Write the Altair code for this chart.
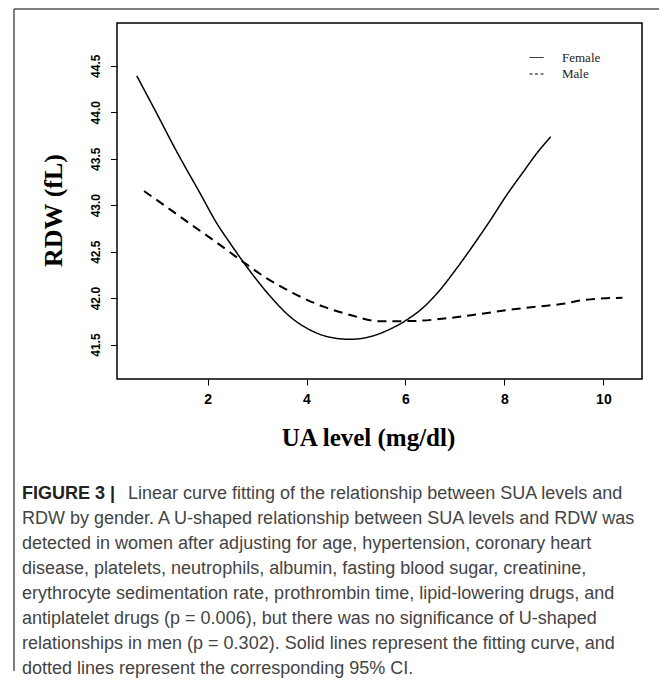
import altair as alt
import pandas as pd

# ---- data ----
female_x = [0.569, 0.973, 1.378, 1.85, 2.187, 2.457, 2.693, 2.996, 3.333, 3.67, 4.075, 4.48,
            4.884, 5.289, 5.62, 6.022, 6.36, 6.697, 7.034, 7.371, 7.708, 8.045, 8.383, 8.652, 8.936]
female_y = [44.392, 43.987, 43.575, 43.127, 42.805, 42.59, 42.41, 42.195, 41.98, 41.80, 41.657, 41.579,
            41.557, 41.586, 41.65, 41.765, 41.90, 42.088, 42.32, 42.57, 42.833, 43.109, 43.36, 43.557, 43.736]
male_x = [0.717, 1.175, 1.647, 2.187, 2.693, 3.198, 3.738, 4.345, 4.884, 5.484, 6.157, 6.832,
          7.506, 8.18, 8.855, 9.259, 9.529, 10.385]
male_y = [43.152, 42.98, 42.80, 42.597, 42.40, 42.213, 42.052, 41.908, 41.819, 41.75, 41.754, 41.783,
          41.83, 41.88, 41.919, 41.944, 41.975, 42.005]
series = ["Female", "Male"]
x_ticks = [2, 4, 6, 8, 10]
y_ticks = [41.5, 42.0, 42.5, 43.0, 43.5, 44.0, 44.5]
x_title = "UA level (mg/dl)"
y_title = "RDW (fL)"
caption_head = "FIGURE 3 |"
caption_first = "Linear curve fitting of the relationship between SUA levels and"
caption_rest = [
    "RDW by gender. A U-shaped relationship between SUA levels and RDW was",
    "detected in women after adjusting for age, hypertension, coronary heart",
    "disease, platelets, neutrophils, albumin, fasting blood sugar, creatinine,",
    "erythrocyte sedimentation rate, prothrombin time, lipid-lowering drugs, and",
    "antiplatelet drugs (p = 0.006), but there was no significance of U-shaped",
    "relationships in men (p = 0.302). Solid lines represent the fitting curve, and",
    "dotted lines represent the corresponding 95% CI.",
]

df = pd.concat([
    pd.DataFrame({"x": female_x, "y": female_y, "sex": series[0], "order": range(len(female_x))}),
    pd.DataFrame({"x": male_x, "y": male_y, "sex": series[1], "order": range(len(male_x))}),
])

xs = alt.Scale(domain=[0.17, 10.78], nice=False, zero=False)
ys = alt.Scale(domain=[41.13, 44.96], nice=False, zero=False)

x_enc = alt.X("x:Q", scale=xs, axis=alt.Axis(
    values=x_ticks, title=x_title, grid=False, domain=False, tickSize=6, tickColor="black",
    labelFont="Liberation Sans", labelFontWeight="bold", labelFontSize=14, labelColor="black",
    labelPadding=7, labelFlush=False,
    titleFont="Liberation Serif", titleFontWeight="bold", titleFontSize=25, titleColor="black",
    titleX=251, titleY=66, titleBaseline="alphabetic", titleAnchor="start", titleAlign="center"))
y_enc = alt.Y("y:Q", scale=ys, axis=alt.Axis(
    values=y_ticks, format=".1f", title=y_title, grid=False, domain=False, tickSize=6.5,
    tickColor="black", labelFont="Liberation Sans", labelFontWeight="bold", labelFontSize=12,
    labelColor="black", labelAngle=270, labelAlign="center", labelBaseline="alphabetic",
    labelPadding=11, labelFlush=False,
    titleFont="Liberation Serif", titleFontWeight="bold", titleFontSize=26, titleColor="black",
    titleAngle=270, titleX=-56, titleY=187, titleBaseline="alphabetic", titleAlign="center"))

lines = alt.Chart(df).mark_line(color="black", interpolate="monotone").encode(
    x=x_enc, y=y_enc, detail="sex:N", order="order:Q",
    strokeDash=alt.condition(alt.datum.sex == "Male", alt.value([9, 6]), alt.value([1, 0])),
    strokeWidth=alt.condition(alt.datum.sex == "Male", alt.value(2), alt.value(1.5)),
)

legend_layer = alt.Chart(df).transform_filter("false").mark_line(color="black").encode(
    x=alt.X("x:Q", scale=xs), y=alt.Y("y:Q", scale=ys),
    strokeDash=alt.StrokeDash("sex:N", scale=alt.Scale(domain=series, range=[[1, 0], [3, 2.5]]),
                              legend=alt.Legend(
                                  title=None, orient="none", legendX=412, legendY=27,
                                  symbolType="stroke", symbolSize=196, symbolStrokeWidth=1,
                                  symbolStrokeColor="black", labelFont="Liberation Serif",
                                  labelFontSize=13, labelColor="#222", labelOffset=18,
                                  rowPadding=1.5, padding=0)),
)

frame_df = pd.DataFrame({"k": [0]})
frame_top = alt.Chart(frame_df).mark_rule(color="#555", strokeWidth=1.5).encode(
    x=alt.value(-103), x2=alt.value(542), y=alt.value(-14))
frame_left = alt.Chart(frame_df).mark_rule(color="#555", strokeWidth=1.5).encode(
    x=alt.value(-103), y=alt.value(-14), y2=alt.value(648))

cap_head = alt.Chart(frame_df).mark_text(
    align="left", baseline="alphabetic", font="Liberation Sans", fontWeight="bold",
    fontSize=18, color="#222").encode(x=alt.value(-95), y=alt.value(476), text=alt.value(caption_head))
cap_first = alt.Chart(frame_df).mark_text(
    align="left", baseline="alphabetic", font="Liberation Sans", fontSize=18,
    color="#444").encode(x=alt.value(11), y=alt.value(476), text=alt.value(caption_first))
cap_rest = alt.Chart(frame_df).mark_text(
    align="left", baseline="alphabetic", font="Liberation Sans", fontSize=18, lineHeight=25,
    color="#444").encode(x=alt.value(-95), y=alt.value(501), text=alt.value(caption_rest))

chart = alt.layer(lines, legend_layer, frame_top, frame_left, cap_head, cap_first, cap_rest).resolve_scale(
    strokeDash="independent"
).properties(
    width=525, height=356,
    padding={"left": 109, "top": 15, "right": 17, "bottom": 300},
    autosize=alt.AutoSizeParams(type="none"),
).configure(background="white").configure_view(stroke="black", strokeWidth=1.5)

chart.save("out.html", embed_options={"renderer": "svg", "actions": False})
